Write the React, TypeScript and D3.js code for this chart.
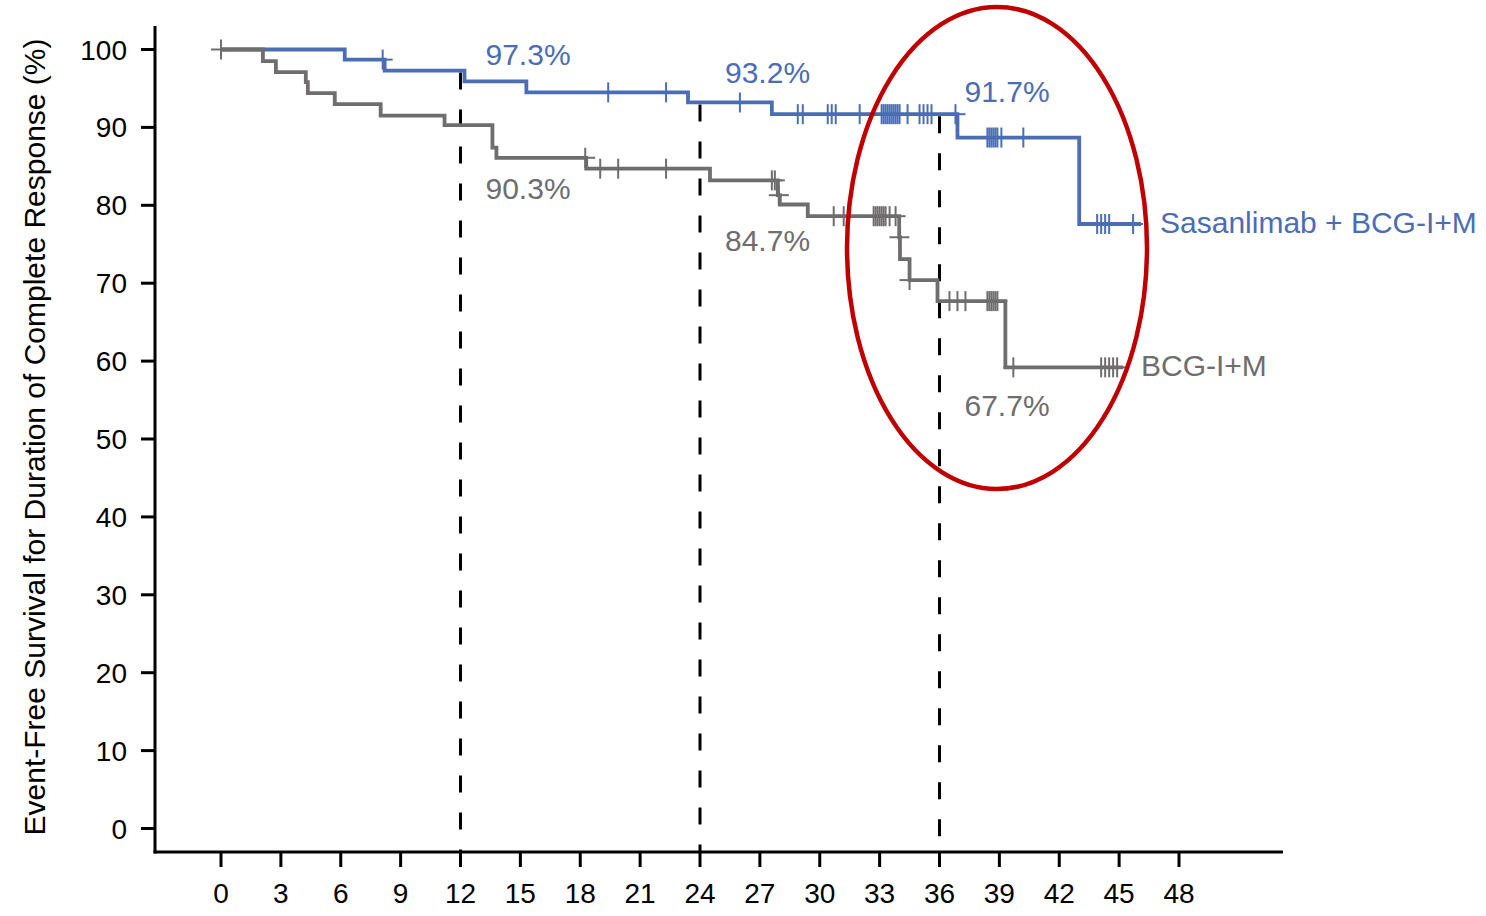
import React, { useEffect } from 'react'
import * as d3 from 'd3'

// months on the x axis, % on the y axis
const monthTicks = d3.range(0, 49, 3)
const survTicks = d3.range(0, 101, 10)
const landmarks = [12, 24, 36]

// Sasanlimab + BCG-I+M : step times and survival after each step
const sasTimes = [0, 6.2, 8.2, 12.2, 15.3, 23.4, 27.6, 36.9, 43.0, 46.1]
const sasSurv = [100, 98.7, 97.3, 95.9, 94.5, 93.2, 91.7, 88.7, 77.6, 77.6]
const sasCensor = [8.1, 19.4, 22.3, 26.0, 28.9, 29.15, 30.4, 30.6, 30.8, 32.0,
  33.1, 33.2, 33.3, 33.4, 33.5, 33.6, 33.7, 33.8, 33.9, 34.0, 34.4,
  35.0, 35.2, 35.4, 35.6, 36.8, 38.4, 38.5, 38.6, 38.7, 38.8, 38.9, 39.1, 40.2,
  43.9, 44.1, 44.3, 44.5, 45.7]

// BCG-I+M
const bcgTimes = [0, 2.1, 2.75, 4.25, 4.35, 5.7, 8.0, 11.2, 13.6, 13.8, 18.3, 24.5,
  27.9, 28.0, 29.4, 33.98, 34.02, 34.5, 35.9, 39.3, 45.2]
const bcgSurv = [100, 98.5, 97.1, 95.8, 94.4, 93.0, 91.5, 90.3, 87.4, 86.1, 84.7, 83.2,
  81.3, 80.1, 78.6, 75.9, 73.1, 70.4, 67.7, 59.2, 59.2]
const bcgCensor = [0, 18.25, 19.0, 19.9, 22.3, 27.6, 27.75, 27.95, 30.7, 31.2,
  32.7, 32.8, 32.9, 33.0, 33.1, 33.2, 33.3, 33.5, 33.8, 33.99, 34.5,
  36.5, 36.9, 37.3, 38.4, 38.5, 38.6, 38.7, 38.8, 38.9, 39.7,
  44.1, 44.3, 44.5, 44.7, 44.9]

const sasLabels = ['97.3%', '93.2%', '91.7%']
const bcgLabels = ['90.3%', '84.7%', '67.7%']

const BLUE = '#4a6db5'
const GRAY = '#6f6d6d'
const FONT = '"Liberation Sans", Arial, sans-serif'

function survAt(times: number[], surv: number[], t: number) {
  const i = d3.bisectRight(times, t) - 1
  return surv[Math.max(0, i)]
}

export default function App() {
  useEffect(() => {
    document.body.style.margin = '0'
  }, [])

  const width = 1486, height = 916
  const x = d3.scaleLinear().domain([0, 48]).range([221, 1179])
  const y = d3.scaleLinear().domain([0, 100]).range([828.5, 49.5])
  const axisX = 155, axisY = 852

  const line = d3.line<[number, number]>()
    .x(d => x(d[0]))
    .y(d => y(d[1]))
    .curve(d3.curveStepAfter)

  const sasPts = sasTimes.map((t, i) => [t, sasSurv[i]] as [number, number])
  const bcgPts = bcgTimes.map((t, i) => [t, bcgSurv[i]] as [number, number])

  const cross = (t: number, v: number, color: string, key: string) => {
    const cx = x(t), cy = y(v)
    return (
      <g key={key} stroke={color} strokeWidth={2}>
        <line x1={cx} x2={cx} y1={cy - 10} y2={cy + 10} />
        <line x1={cx - 10} x2={cx + 10} y1={cy} y2={cy} />
      </g>
    )
  }

  // label placement relative to the curve at each landmark
  const sasDy = [-6, -19, -12]
  const bcgDy = [74, 82, 115]

  return (
    <svg width={width} height={height} style={{ display: 'block', fontFamily: FONT }}>
      {/* landmark dashed lines */}
      {landmarks.map(m => (
        <line key={m} x1={x(m)} x2={x(m)} y1={y(survAt(sasTimes, sasSurv, m)) + 2} y2={axisY}
          stroke="#000" strokeWidth={3} strokeDasharray="17 20" />
      ))}

      {/* axes */}
      <line x1={axisX} x2={axisX} y1={26} y2={axisY + 1.5} stroke="#000" strokeWidth={3} />
      <line x1={axisX - 1.5} x2={1283} y1={axisY} y2={axisY} stroke="#000" strokeWidth={3} />
      {survTicks.map(v => (
        <g key={v}>
          <line x1={141} x2={axisX} y1={y(v)} y2={y(v)} stroke="#000" strokeWidth={3} />
          <text x={127} y={y(v)} dy="0.36em" textAnchor="end" fontSize={28} fill="#000">{v}</text>
        </g>
      ))}
      {monthTicks.map(m => (
        <g key={m}>
          <line x1={x(m)} x2={x(m)} y1={axisY} y2={867} stroke="#000" strokeWidth={3} />
          <text x={x(m)} y={903} textAnchor="middle" fontSize={28} fill="#000">{m}</text>
        </g>
      ))}
      <text transform="translate(45,437) rotate(-90)" textAnchor="middle" fontSize={30} fill="#000">
        Event-Free Survival for Duration of Complete Response (%)
      </text>

      {/* curves */}
      <path d={line(sasPts) || ''} fill="none" stroke={BLUE} strokeWidth={3.8} />
      {sasCensor.map((t, i) => cross(t, survAt(sasTimes, sasSurv, t), BLUE, 's' + i))}
      <path d={line(bcgPts) || ''} fill="none" stroke={GRAY} strokeWidth={3.8} />
      {bcgCensor.map((t, i) => cross(t, survAt(bcgTimes, bcgSurv, t), GRAY, 'b' + i))}

      {/* landmark labels */}
      {landmarks.map((m, i) => (
        <text key={'sl' + m} x={x(m) + 25} y={y(survAt(sasTimes, sasSurv, m - 0.01)) + sasDy[i]}
          fontSize={30} fill={BLUE}>{sasLabels[i]}</text>
      ))}
      {landmarks.map((m, i) => (
        <text key={'bl' + m} x={x(m) + 25} y={y(survAt(bcgTimes, bcgSurv, m)) + bcgDy[i]}
          fontSize={30} fill={GRAY}>{bcgLabels[i]}</text>
      ))}

      {/* series names */}
      <text x={1160} y={233} fontSize={30} fill={BLUE}>Sasanlimab + BCG-I+M</text>
      <text x={1141} y={376} fontSize={30} fill={GRAY}>BCG-I+M</text>

      {/* highlight ellipse */}
      <ellipse cx={997} cy={248} rx={150} ry={241} fill="none" stroke="#c00000" strokeWidth={4.5} />
    </svg>
  )
}
